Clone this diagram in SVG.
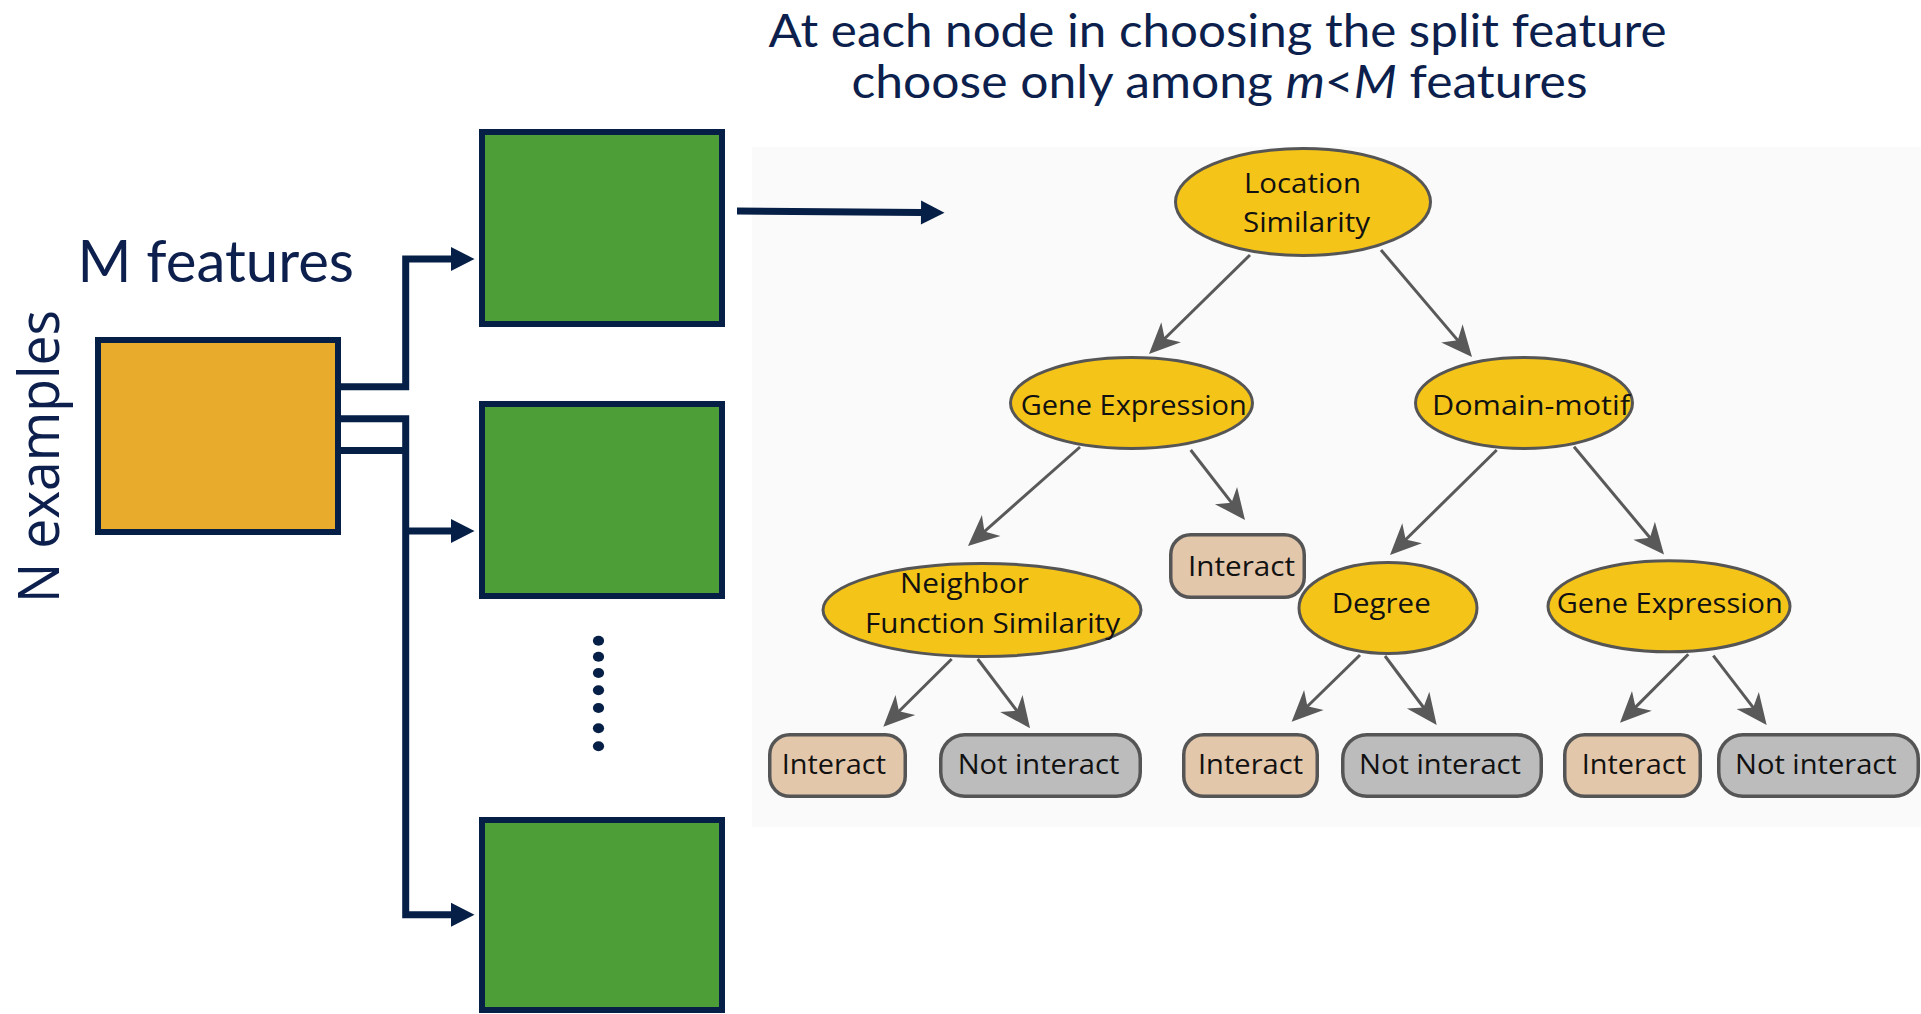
<svg xmlns="http://www.w3.org/2000/svg" width="1921" height="1014" viewBox="0 0 1921 1014">
<style>
.navy{fill:none;stroke:#061f46;stroke-width:7}
.sq{stroke:#061f46;stroke-width:6}
.green{fill:#4d9e37}
.orange{fill:#e9ab2b}
.ttl{font-family:Lato,"Open Sans","Liberation Sans",sans-serif;fill:#0c1f4d}
.lab{font-family:"Open Sans","Liberation Sans",sans-serif;font-size:28px;fill:#111}
.ell{fill:#f5c419;stroke:#555;stroke-width:3}
.yes{fill:#e3c7ab;stroke:#555;stroke-width:3.5}
.no{fill:#bcbcbc;stroke:#555;stroke-width:3.5}
.edge{fill:none;stroke:#595959;stroke-width:3}
.dot{fill:#061f46}
</style>
<defs>
<marker id="navyHead" markerUnits="userSpaceOnUse" markerWidth="30" markerHeight="30" refX="0" refY="0" orient="auto" overflow="visible">
<path d="M0,-12 L23.5,0 L0,12 Z" fill="#061f46"/>
</marker>
<marker id="grayHead" markerUnits="userSpaceOnUse" markerWidth="40" markerHeight="40" refX="0" refY="0" orient="auto" overflow="visible">
<path d="M15,0 L-16,-14 L-7,0 L-16,14 Z" fill="#595959"/>
</marker>
</defs>
<rect width="1921" height="1014" fill="#ffffff"/>
<rect x="752" y="147" width="1169" height="680" fill="#fafafa"/>

<text class="ttl" x="768.6" y="46.7" font-size="46" textLength="898" lengthAdjust="spacingAndGlyphs">At each node in choosing the split feature</text>
<text class="ttl" x="851.5" y="98.3" font-size="46" textLength="736" lengthAdjust="spacingAndGlyphs">choose only among <tspan font-style="italic">m</tspan>&lt;<tspan font-style="italic">M</tspan> features</text>

<text class="ttl" x="77.5" y="281.7" font-size="58" textLength="276.5" lengthAdjust="spacingAndGlyphs">M features</text>
<text class="ttl" transform="rotate(-90)" x="-603" y="59" font-size="56" style="font-family:'Open Sans','Liberation Sans',sans-serif" textLength="293" lengthAdjust="spacingAndGlyphs">N examples</text>

<g id="connectors">
<path class="navy" d="M341,386.7 H405.7 V259 H451" marker-end="url(#navyHead)"/>
<path class="navy" d="M341,418.8 H405.7 V914.7 H451" marker-end="url(#navyHead)"/>
<path class="navy" d="M405.7,531 H451" marker-end="url(#navyHead)"/>
<path class="navy" d="M341,450.5 H403"/>
<path class="navy" d="M737,211 L921,212.5" marker-end="url(#navyHead)"/>
<line class="edge" x1="1250" y1="255" x2="1159.7" y2="343.5" marker-end="url(#grayHead)"/>
<line class="edge" x1="1381" y1="250" x2="1462.3" y2="345.6" marker-end="url(#grayHead)"/>
<line class="edge" x1="1080" y1="447" x2="979.2" y2="536.1" marker-end="url(#grayHead)"/>
<line class="edge" x1="1190.7" y1="450" x2="1235.8" y2="508.2" marker-end="url(#grayHead)"/>
<line class="edge" x1="1496.7" y1="450" x2="1400.7" y2="544.5" marker-end="url(#grayHead)"/>
<line class="edge" x1="1574" y1="446.7" x2="1654.4" y2="543" marker-end="url(#grayHead)"/>
<line class="edge" x1="951.7" y1="659" x2="894" y2="716.2" marker-end="url(#grayHead)"/>
<line class="edge" x1="977.7" y1="659" x2="1021" y2="716.3" marker-end="url(#grayHead)"/>
<line class="edge" x1="1360" y1="655" x2="1302.4" y2="711.2" marker-end="url(#grayHead)"/>
<line class="edge" x1="1385" y1="656" x2="1427.7" y2="713" marker-end="url(#grayHead)"/>
<line class="edge" x1="1688.3" y1="654.3" x2="1630.6" y2="712.1" marker-end="url(#grayHead)"/>
<line class="edge" x1="1713.3" y1="655.7" x2="1757.5" y2="713.1" marker-end="url(#grayHead)"/>
</g>

<g id="data"><rect class="orange sq" x="98" y="340" width="240" height="192"/></g>
<g id="subset1"><rect class="green sq" x="482" y="132" width="240" height="192"/></g>
<g id="subset2"><rect class="green sq" x="482" y="404" width="240" height="192"/></g>
<g id="subsetN"><rect class="green sq" x="482" y="820" width="240" height="190"/></g>
<g id="ellipsis">
<ellipse class="dot" cx="598.5" cy="640.7" rx="5.6" ry="5"/>
<ellipse class="dot" cx="598.5" cy="656.7" rx="5.6" ry="5"/>
<ellipse class="dot" cx="598.5" cy="673" rx="5.6" ry="5"/>
<ellipse class="dot" cx="598.5" cy="690.3" rx="5.6" ry="5"/>
<ellipse class="dot" cx="598.5" cy="708" rx="5.6" ry="5"/>
<ellipse class="dot" cx="598.5" cy="728.3" rx="5.6" ry="5"/>
<ellipse class="dot" cx="598.5" cy="746.3" rx="5.6" ry="5"/>
</g>

<g id="n-location">
<ellipse class="ell" cx="1303" cy="202" rx="127.5" ry="53.5"/>
<text class="lab" x="1244" y="193" textLength="117" lengthAdjust="spacingAndGlyphs">Location</text>
<text class="lab" x="1243" y="231.7" textLength="127" lengthAdjust="spacingAndGlyphs">Similarity</text>
</g>
<g id="n-gene1">
<ellipse class="ell" cx="1131.5" cy="403" rx="121" ry="45.5"/>
<text class="lab" x="1020.7" y="415" textLength="226" lengthAdjust="spacingAndGlyphs">Gene Expression</text>
</g>
<g id="n-domain">
<ellipse class="ell" cx="1524" cy="403" rx="108.5" ry="45.5"/>
<text class="lab" x="1432" y="415" textLength="198" lengthAdjust="spacingAndGlyphs">Domain-motif</text>
</g>
<g id="n-interact-mid">
<rect class="yes" x="1170.75" y="534.75" width="133.5" height="62.5" rx="20"/>
<text class="lab" x="1188" y="576" textLength="107" lengthAdjust="spacingAndGlyphs">Interact</text>
</g>
<g id="n-neighbor">
<ellipse class="ell" cx="982" cy="610" rx="159" ry="46.5"/>
<text class="lab" x="900" y="593" textLength="129" lengthAdjust="spacingAndGlyphs">Neighbor</text>
<text class="lab" x="865" y="633" textLength="255" lengthAdjust="spacingAndGlyphs">Function Similarity</text>
</g>
<g id="n-degree">
<ellipse class="ell" cx="1388" cy="608" rx="89" ry="45.5"/>
<text class="lab" x="1331.7" y="612.7" textLength="99" lengthAdjust="spacingAndGlyphs">Degree</text>
</g>
<g id="n-gene2">
<ellipse class="ell" cx="1669" cy="606.3" rx="121" ry="45.5"/>
<text class="lab" x="1556.7" y="612.7" textLength="226" lengthAdjust="spacingAndGlyphs">Gene Expression</text>
</g>
<g id="leaf-i1">
<rect class="yes" x="769.75" y="734.75" width="135.5" height="61.5" rx="20"/>
<text class="lab" x="781.7" y="774.3" textLength="104.3" lengthAdjust="spacingAndGlyphs">Interact</text>
</g>
<g id="leaf-n1">
<rect class="no" x="940.75" y="734.75" width="199.5" height="61.5" rx="24"/>
<text class="lab" x="957.7" y="774.3" textLength="161.6" lengthAdjust="spacingAndGlyphs">Not interact</text>
</g>
<g id="leaf-i2">
<rect class="yes" x="1183.75" y="734.75" width="133.5" height="61.5" rx="20"/>
<text class="lab" x="1198" y="774.3" textLength="105" lengthAdjust="spacingAndGlyphs">Interact</text>
</g>
<g id="leaf-n2">
<rect class="no" x="1342.75" y="734.75" width="198.5" height="61.5" rx="24"/>
<text class="lab" x="1359" y="774.3" textLength="162" lengthAdjust="spacingAndGlyphs">Not interact</text>
</g>
<g id="leaf-i3">
<rect class="yes" x="1564.75" y="734.75" width="135.5" height="61.5" rx="20"/>
<text class="lab" x="1581.7" y="774.3" textLength="104.3" lengthAdjust="spacingAndGlyphs">Interact</text>
</g>
<g id="leaf-n3">
<rect class="no" x="1718.75" y="734.75" width="199.5" height="61.5" rx="24"/>
<text class="lab" x="1735" y="774.3" textLength="161.7" lengthAdjust="spacingAndGlyphs">Not interact</text>
</g>
</svg>
